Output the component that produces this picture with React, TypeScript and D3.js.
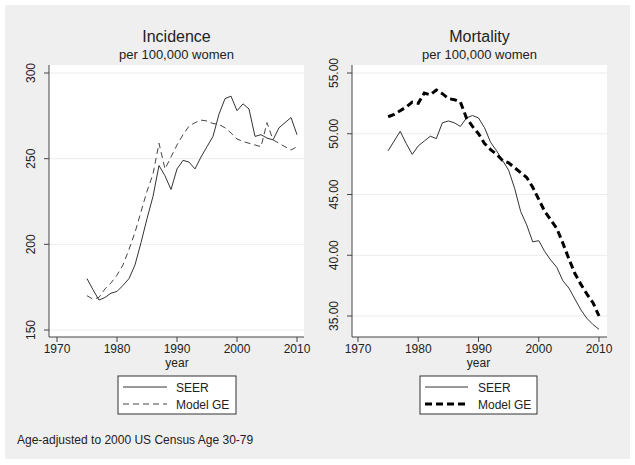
import React from "react";
import * as d3 from "d3";

const years = d3.range(1975, 2011);
const xTicks = [1970, 1980, 1990, 2000, 2010];

const incTicks = [150, 200, 250, 300];
const incSEER = [180, 173.5, 167.5, 169, 171.5, 172.5, 176, 180, 188, 201, 215, 228, 246, 240, 232, 244, 249, 248, 244, 251, 257, 263, 276, 285, 286.5, 278, 282, 279, 263, 264, 262, 261, 268, 271, 274, 264];
const incGE = [170, 168, 169, 174, 177.5, 182, 188, 197, 207, 219, 231, 241, 259, 244, 251, 258, 264, 269, 271, 272.5, 272, 270.5, 270, 268, 265, 261.5, 260, 259, 258, 257, 271, 261, 259, 257, 255, 257];

const morTicks = [35, 40, 45, 50, 55];
const morTickLabels = ["35.00", "40.00", "45.00", "50.00", "55.00"];
const morSEER = [48.6, 49.4, 50.2, 49.2, 48.3, 49.0, 49.4, 49.8, 49.6, 50.9, 51.05, 50.9, 50.6, 51.3, 51.5, 51.3, 50.5, 49.3, 48.6, 47.8, 47.0, 45.5, 43.6, 42.5, 41.1, 41.2, 40.3, 39.6, 39.0, 37.9, 37.3, 36.4, 35.5, 34.8, 34.3, 33.9];
const morGE = [51.4, 51.6, 51.9, 52.2, 52.6, 52.5, 53.35, 53.2, 53.6, 53.3, 52.9, 52.8, 52.6, 51.3, 50.6, 50.0, 49.2, 48.7, 48.3, 47.8, 47.6, 47.2, 46.8, 46.4, 45.6, 44.6, 43.6, 42.9, 42.2, 41.0, 39.7, 38.5, 37.6, 36.8, 36.1, 35.0];

const FONT = "'Liberation Sans', Arial, sans-serif";
const TXT = "#222";

type PanelProps = {
  title: string;
  plot: { x0: number; x1: number; y0: number; y1: number };
  x: d3.ScaleLinear<number, number>;
  y: d3.ScaleLinear<number, number>;
  yTicks: number[];
  yLabels: string[];
  seer: number[];
  ge: number[];
  geStyle: { stroke: string; width: number; dash: string };
  legend: { x0: number; x1: number; lx0: number; lx1: number; tx: number };
};

function Panel(p: PanelProps) {
  const { plot, x, y } = p;
  const line = (vals: number[]) =>
    d3.line<number>().x((_, i) => x(years[i])).y((v) => y(v))(vals) || "";
  const cx = (plot.x0 + plot.x1) / 2;
  const labX = plot.x0 - 14;
  return (
    <g>
      <text x={cx} y={42} textAnchor="middle" fontSize={16} fill={TXT} fontFamily={FONT}>{p.title}</text>
      <text x={cx} y={59} textAnchor="middle" fontSize={13} fill={TXT} fontFamily={FONT}>per 100,000 women</text>
      <rect x={plot.x0} y={plot.y0} width={plot.x1 - plot.x0} height={plot.y1 - plot.y0} fill="#ffffff" />
      {p.yTicks.map((t) => (
        <line key={"g" + t} x1={plot.x0} x2={plot.x1} y1={y(t)} y2={y(t)} stroke="#ececec" strokeWidth={1} />
      ))}
      <path d={line(p.seer)} fill="none" stroke="#333" strokeWidth={1} />
      <path d={line(p.ge)} fill="none" stroke={p.geStyle.stroke} strokeWidth={p.geStyle.width} strokeDasharray={p.geStyle.dash} />
      <line x1={plot.x0} x2={plot.x0} y1={plot.y0} y2={plot.y1} stroke="#444" strokeWidth={1} />
      <line x1={plot.x0} x2={plot.x1} y1={plot.y1} y2={plot.y1} stroke="#444" strokeWidth={1} />
      {p.yTicks.map((t, i) => (
        <g key={"y" + t}>
          <line x1={plot.x0 - 5} x2={plot.x0} y1={y(t)} y2={y(t)} stroke="#444" />
          <text transform={`translate(${labX},${y(t)}) rotate(-90)`} textAnchor="middle" fontSize={12} fill={TXT} fontFamily={FONT}>{p.yLabels[i]}</text>
        </g>
      ))}
      {xTicks.map((t) => (
        <g key={"x" + t}>
          <line x1={x(t)} x2={x(t)} y1={plot.y1} y2={plot.y1 + 5} stroke="#444" />
          <text x={x(t)} y={353} textAnchor="middle" fontSize={12} fill={TXT} fontFamily={FONT}>{t}</text>
        </g>
      ))}
      <text x={x(1990)} y={367} textAnchor="middle" fontSize={12} fill={TXT} fontFamily={FONT}>year</text>
      <rect x={p.legend.x0} y={376} width={p.legend.x1 - p.legend.x0} height={38} fill="#fff" stroke="#333" strokeWidth={1} />
      <line x1={p.legend.lx0} x2={p.legend.lx1} y1={387} y2={387} stroke="#333" strokeWidth={1} />
      <text x={p.legend.tx} y={391.5} fontSize={12} fill={TXT} fontFamily={FONT}>SEER</text>
      <line x1={p.legend.lx0} x2={p.legend.lx1} y1={404} y2={404} stroke={p.geStyle.stroke} strokeWidth={p.geStyle.width} strokeDasharray={p.geStyle.dash} />
      <text x={p.legend.tx} y={408.5} fontSize={12} fill={TXT} fontFamily={FONT}>Model GE</text>
    </g>
  );
}

export default function App() {
  const incPlot = { x0: 49, x1: 304, y0: 65, y1: 337 };
  const incX = d3.scaleLinear().domain([1970, 2010]).range([57, 297]);
  const incY = d3.scaleLinear().domain([150, 300]).range([330, 73]);
  const morPlot = { x0: 352, x1: 607, y0: 65, y1: 337 };
  const morX = d3.scaleLinear().domain([1970, 2010]).range([358, 599]);
  const morY = d3.scaleLinear().domain([35, 55]).range([316, 73]);
  return (
    <svg width={635} height={465} style={{ position: "absolute", left: 0, top: 0 }}>
      <rect x={0} y={0} width={635} height={465} fill="#fff" />
      <rect x={5} y={5} width={625} height={454} fill="#efefef" />
      <Panel
        title="Incidence"
        plot={incPlot}
        x={incX}
        y={incY}
        yTicks={incTicks}
        yLabels={incTicks.map(String)}
        seer={incSEER}
        ge={incGE}
        geStyle={{ stroke: "#444", width: 1, dash: "6,4" }}
        legend={{ x0: 118, x1: 236, lx0: 123, lx1: 167, tx: 176 }}
      />
      <Panel
        title="Mortality"
        plot={morPlot}
        x={morX}
        y={morY}
        yTicks={morTicks}
        yLabels={morTickLabels}
        seer={morSEER}
        ge={morGE}
        geStyle={{ stroke: "#000", width: 3, dash: "7,4" }}
        legend={{ x0: 420, x1: 537, lx0: 425, lx1: 468, tx: 478 }}
      />
      <text x={17} y={444} fontSize={12} fill={TXT} fontFamily={FONT}>Age-adjusted to 2000 US Census Age 30-79</text>
    </svg>
  );
}
